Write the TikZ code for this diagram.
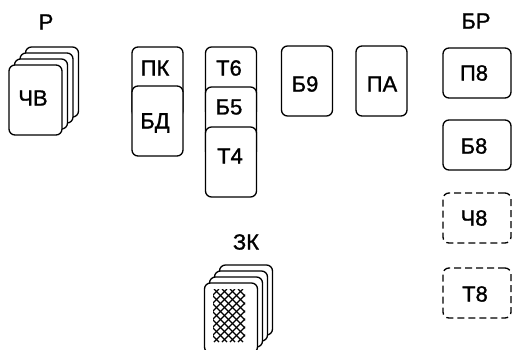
\documentclass[tikz,border=0pt]{standalone}
\usepackage{fontspec}
\setmainfont{Liberation Sans}
\newfontfamily\cardfont{Liberation Sans}[FakeBold=1.2]
\begin{document}
\begin{tikzpicture}[x=1pt,y=-1pt,
  card/.style={draw, fill=white, rounded corners=6pt, line width=1.3pt, inner sep=0pt},
  tcard/.style={card, minimum width=51pt, minimum height=70pt},
  dcard/.style={card, minimum width=53pt, minimum height=70pt},
  fcard/.style={card, minimum width=68pt, minimum height=50pt},
  dash card/.style={fcard, dash pattern=on 7pt off 4pt},
  lbl/.style={font=\cardfont\fontsize{22}{22}\selectfont, inner sep=0pt},
  mesh/.style={line width=1.1pt}]
\useasboundingbox (0,0) rectangle (515,349);
% Reserve deck
\node[dcard] (r3) at (52,82) {};
\node[dcard] (r2) at (46.5,88) {};
\node[dcard] (r1) at (41,94) {};
\node[dcard] (r0) at (35.5,100) {};
\node[lbl] (rt) at (33,98) {ЧВ};
\node[lbl] (rl) at (46,22) {Р};
% Column 1
\node[tcard] (c1a) at (157.5,82) {};
\node[lbl] (c1at) at (155,68) {ПК};
\node[tcard] (c1b) at (157.5,121) {};
\node[lbl] (c1bt) at (155,123) {БД};
% Column 2
\node[tcard] (c2a) at (231,82) {};
\node[lbl] (c2at) at (229,68) {Т6};
\node[tcard] (c2b) at (231,122) {};
\node[lbl] (c2bt) at (229,107) {Б5};
\node[tcard] (c2c) at (231,162) {};
\node[lbl] (c2ct) at (230,156) {Т4};
% Column 3, 4
\node[tcard] (c3) at (307,81) {};
\node[lbl] (c3t) at (305,84) {Б9};
\node[tcard] (c4) at (381.5,81) {};
\node[lbl] (c4t) at (382,84) {ПА};
% Base row
\node[lbl] (br) at (476,21) {БР};
\node[fcard] (f1) at (477,73) {};
\node[lbl] (f1t) at (474,73) {П8};
\node[fcard] (f2) at (477,145) {};
\node[lbl] (f2t) at (474,146) {Б8};
\node[dash card] (f3) at (477,218) {};
\node[lbl] (f3t) at (474,218) {Ч8};
\node[dash card] (f4) at (477,293) {};
\node[lbl] (f4t) at (475,294) {Т8};
% Stock
\node[lbl] (zl) at (246,242) {ЗК};
\node[dcard] (z3) at (246,300) {};
\node[dcard] (z2) at (241,306) {};
\node[dcard] (z1) at (236,312) {};
\node[dcard] (z0) at (231,318) {};
\begin{scope}
  \clip (213,289) rectangle (245,342);
  \foreach \x in {150,158,...,262} {
    \draw[mesh] (\x,289) -- (\x+53,342);
    \draw[mesh] (\x+53,289) -- (\x,342);
  }
\end{scope}
\end{tikzpicture}
\end{document}
